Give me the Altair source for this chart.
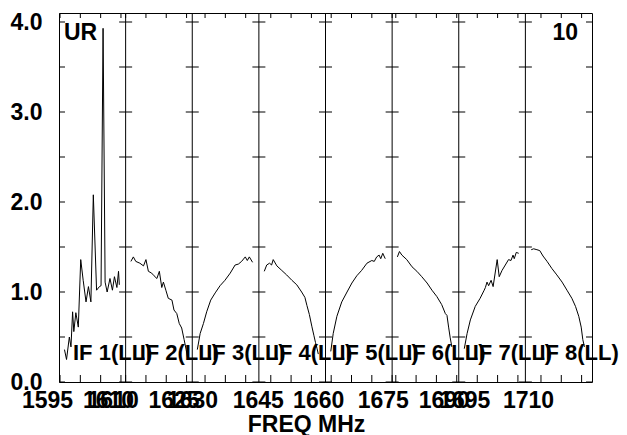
import altair as alt
import pandas as pd

FONT = "Liberation Sans"
FS = 23
FS_IF = 22
SPAN = 16.4  # MHz shown per IF panel

if_start = [1594.75, 1610.0, 1626.85, 1642.07, 1658.6, 1674.1, 1690.44, 1706.16]
if_names = ["IF 1(LL)", "IF 2(LL)", "IF 3(LL)", "IF 4(LL)",
            "IF 5(LL)", "IF 6(LL)", "IF 7(LL)", "IF 8(LL)"]

if1_freq = [1596.1, 1596.6, 1597.3, 1597.7, 1598.1, 1598.4, 1598.9, 1599.5, 1600.1,
            1600.7, 1601.4, 1602.0, 1602.6, 1603.2, 1604.0, 1604.7, 1605.1, 1605.6,
            1606.1, 1606.6, 1607.3, 1607.9, 1608.4, 1609.0, 1609.4, 1609.6]
if1_amp = [0.36, 0.25, 0.50, 0.39, 0.78, 0.56, 0.77, 0.61, 1.36,
           1.13, 0.89, 1.06, 0.89, 2.08, 1.02, 1.06, 1.07, 3.93,
           1.11, 1.00, 1.15, 1.02, 1.17, 1.05, 1.23, 1.08]

if2_freq = [1611.3, 1611.9, 1612.5, 1613.5, 1614.4, 1615.0, 1615.6, 1616.4, 1617.0,
            1617.7, 1618.3, 1618.9, 1619.3, 1619.9, 1620.5, 1621.4, 1621.9, 1622.6,
            1623.2, 1623.8, 1624.4, 1624.9, 1625.2]
if2_amp = [1.34, 1.39, 1.34, 1.32, 1.29, 1.36, 1.23, 1.21, 1.18,
           1.15, 1.23, 1.05, 1.11, 1.02, 0.93, 0.91, 0.80, 0.76,
           0.65, 0.60, 0.47, 0.36, 0.28]

if3_freq = [1628.1, 1628.8, 1629.6, 1630.4, 1631.4, 1632.5, 1633.7, 1634.9, 1636.2,
            1637.4, 1638.2, 1639.0, 1639.9, 1640.4, 1640.9, 1641.7]
if3_amp = [0.36, 0.54, 0.65, 0.78, 0.91, 0.99, 1.07, 1.13, 1.21,
           1.30, 1.31, 1.34, 1.39, 1.35, 1.39, 1.33]

if4_freq = [1643.4, 1644.0, 1644.7, 1645.2, 1645.6, 1646.5, 1647.7, 1648.9, 1650.2,
            1651.4, 1652.6, 1653.4, 1653.9, 1654.5, 1655.1, 1655.6, 1656.0, 1656.4, 1656.7]
if4_amp = [1.23, 1.30, 1.32, 1.30, 1.36, 1.29, 1.24, 1.19, 1.13,
           1.08, 1.00, 0.94, 0.85, 0.75, 0.62, 0.52, 0.44, 0.37, 0.31]

if5_freq = [1659.9, 1660.5, 1661.4, 1662.6, 1663.9, 1665.1, 1666.3, 1667.5, 1668.8,
            1670.0, 1670.6, 1671.2, 1671.8, 1672.2, 1672.7, 1673.3]
if5_amp = [0.34, 0.54, 0.73, 0.89, 1.00, 1.10, 1.18, 1.24, 1.32,
           1.35, 1.34, 1.39, 1.41, 1.37, 1.43, 1.37]

if6_freq = [1675.4, 1675.9, 1676.5, 1677.7, 1679.0, 1680.2, 1681.4, 1682.7, 1683.9,
            1685.1, 1686.3, 1687.2, 1687.6, 1688.0, 1688.4, 1688.8]
if6_amp = [1.39, 1.45, 1.41, 1.36, 1.28, 1.23, 1.17, 1.10, 1.02,
           0.95, 0.86, 0.76, 0.74, 0.61, 0.49, 0.39]

if7_freq = [1691.8, 1692.5, 1693.3, 1694.5, 1695.7, 1696.7, 1697.0, 1697.4, 1697.8,
            1698.4, 1698.9, 1699.9, 1700.4, 1701.1, 1701.9, 1702.7, 1703.3, 1703.8,
            1704.1, 1704.6, 1705.2]
if7_amp = [0.37, 0.54, 0.69, 0.84, 0.93, 1.02, 1.05, 1.11, 1.07,
           1.13, 1.06, 1.36, 1.17, 1.24, 1.30, 1.36, 1.35, 1.41,
           1.37, 1.44, 1.43]

if8_freq = [1707.6, 1708.2, 1709.0, 1709.7, 1710.5, 1711.5, 1712.7, 1713.9, 1715.2,
            1716.4, 1717.6, 1718.5, 1719.3, 1719.9, 1720.3, 1720.7]
if8_amp = [1.47, 1.48, 1.47, 1.46, 1.40, 1.34, 1.26, 1.19, 1.11,
           1.02, 0.93, 0.84, 0.73, 0.61, 0.47, 0.39]

# frequency tick labels written under each panel (panel index, value)
label_panel = [0, 0, 1, 1, 2, 3, 4, 5, 5, 6, 7]
label_freq = [1595, 1610, 1610, 1625, 1630, 1645, 1660, 1675, 1690, 1695, 1710]

y_label_vals = [0, 1, 2, 3, 4]
y_tick_vals = [0, 0.5, 1.0, 1.5, 2.0, 2.5, 3.0, 3.5, 4.0]
Y_MAX = 4.1
corner_left = "UR"
corner_right = "10"

freqs = [if1_freq, if2_freq, if3_freq, if4_freq, if5_freq, if6_freq, if7_freq, if8_freq]
amps = [if1_amp, if2_amp, if3_amp, if4_amp, if5_amp, if6_amp, if7_amp, if8_amp]

rows = []
for k, (fs, am) in enumerate(zip(freqs, amps)):
    for f, a in zip(fs, am):
        rows.append({"g": k * SPAN + (f - if_start[k]), "v": a, "ifn": k})
lines_df = pd.DataFrame(rows)

# tick positions every 5 MHz inside each panel
bt = []
for k, s in enumerate(if_start):
    for t in range(1590, 1730, 5):
        if s - 1e-6 <= t <= s + SPAN + 1e-6:
            bt.append({"g": k * SPAN + (t - s)})
bt_df = pd.DataFrame(bt)
bottom_df = bt_df.assign(v=0.0)
top_df = bt_df.assign(v=Y_MAX)

lab_g = [round(k * SPAN + (f - if_start[k]), 4) for k, f in zip(label_panel, label_freq)]
lab_txt = [str(f) for f in label_freq]
label_expr = "%s[indexof(%s, datum.value)]" % (
    "[" + ",".join("'%s'" % t for t in lab_txt) + "]",
    "[" + ",".join(repr(g) for g in lab_g) + "]",
)

inner_bounds = [k * SPAN for k in range(1, 8)]
inner_df = pd.DataFrame([{"g": b, "v": y} for b in inner_bounds for y in y_tick_vals])
left_df = pd.DataFrame([{"g": 0.0, "v": y} for y in y_tick_vals])
right_df = pd.DataFrame([{"g": 8 * SPAN, "v": y} for y in y_tick_vals])
rule_df = pd.DataFrame({"g": inner_bounds})

X = alt.X(
    "g:Q",
    scale=alt.Scale(domain=[0, 8 * SPAN], nice=False, zero=False),
    axis=alt.Axis(
        values=lab_g, labelExpr=label_expr, ticks=False, tickSize=0, domain=False,
        grid=False, labelOverlap=False, labelFlush=False, labelBound=False,
        labelFont=FONT, labelFontSize=FS, labelFontWeight="bold", labelColor="black",
        labelOffset=-13, labelPadding=7,
        title="FREQ MHz", titleFont=FONT, titleFontSize=FS, titleFontWeight="bold",
        titleColor="black", titleX=247, titleY=49, titleAlign="center",
        titleBaseline="alphabetic",
    ),
)
Y = alt.Y(
    "v:Q",
    scale=alt.Scale(domain=[0, Y_MAX], nice=False, zero=False),
    axis=alt.Axis(
        values=y_label_vals, format=".1f", ticks=False, tickSize=0, domain=False,
        grid=False, labelFont=FONT, labelFontSize=FS, labelFontWeight="bold",
        labelColor="black", labelPadding=17, title=None, labelOverlap=False,
        labelFlush=False,
    ),
)

lines = alt.Chart(lines_df).mark_line(color="black", strokeWidth=1).encode(
    x=X, y=Y, detail="ifn:N")
rules = alt.Chart(rule_df).mark_rule(color="black", strokeWidth=1).encode(x=X)
bot_ticks = alt.Chart(bottom_df).mark_tick(
    orient="vertical", size=7, thickness=1, color="black", yOffset=-3.5, opacity=1
).encode(x=X, y=Y)
top_ticks = alt.Chart(top_df).mark_tick(
    orient="vertical", size=5, thickness=1, color="black", yOffset=2.5, opacity=1
).encode(x=X, y=Y)
inner_ticks = alt.Chart(inner_df).mark_tick(
    orient="horizontal", size=13, thickness=1, color="black", opacity=1
).encode(x=X, y=Y)
left_ticks = alt.Chart(left_df).mark_tick(
    orient="horizontal", size=6, thickness=1, color="black", xOffset=3, opacity=1
).encode(x=X, y=Y)
right_ticks = alt.Chart(right_df).mark_tick(
    orient="horizontal", size=6, thickness=1, color="black", xOffset=-3, opacity=1
).encode(x=X, y=Y)

if_df = pd.DataFrame({"g": [k * SPAN for k in range(8)], "v": [0.0] * 8, "t": if_names})
if_text = alt.Chart(if_df).mark_text(
    align="left", baseline="alphabetic", dx=14, dy=-22, font=FONT,
    fontSize=FS_IF, fontWeight="bold", color="black"
).encode(x=X, y=Y, text="t:N")

ur_df = pd.DataFrame({"g": [0.0], "v": [Y_MAX], "t": [corner_left]})
ur_text = alt.Chart(ur_df).mark_text(
    align="left", baseline="alphabetic", dx=5, dy=27, font=FONT,
    fontSize=FS, fontWeight="bold", color="black"
).encode(x=X, y=Y, text="t:N")

tr_df = pd.DataFrame({"g": [8 * SPAN], "v": [Y_MAX], "t": [corner_right]})
tr_text = alt.Chart(tr_df).mark_text(
    align="right", baseline="alphabetic", dx=-14, dy=27, font=FONT,
    fontSize=FS, fontWeight="bold", color="black"
).encode(x=X, y=Y, text="t:N")

chart = alt.layer(
    rules, bot_ticks, top_ticks, inner_ticks, left_ticks, right_ticks,
    lines, if_text, ur_text, tr_text,
).properties(
    width=533, height=369,
    padding={"left": 51, "top": 5, "right": 27, "bottom": 53},
    autosize=alt.AutoSizeParams(type="none"),
    background="white",
).configure_view(stroke="black", strokeWidth=1)

chart.save("out.html", embed_options={"renderer": "svg", "actions": False})
